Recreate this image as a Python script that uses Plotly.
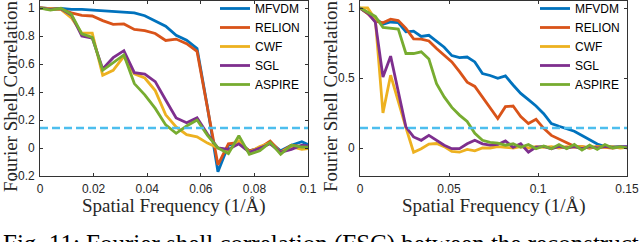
import plotly.graph_objects as go

# ---------------- data ----------------
methods = ["MFVDM", "RELION", "CWF", "SGL", "ASPIRE"]
colors = ["#0072BD", "#D95319", "#EDB120", "#7E2F8E", "#77AC30"]
fsc_threshold = 0.143

freq_left = [0, 0.0039, 0.0078, 0.0117, 0.0156, 0.0195, 0.0234, 0.0273, 0.0313,
             0.0352, 0.0391, 0.043, 0.0469, 0.0508, 0.0547, 0.0586, 0.0625, 0.0664,
             0.0703, 0.0742, 0.0781, 0.082, 0.0859, 0.0898, 0.0938, 0.0977, 0.1016]

left_mfvdm = [1.0, 0.995, 0.998, 0.99, 0.99, 0.985, 0.98, 0.975, 0.97, 0.965, 0.945,
              0.91, 0.87, 0.805, 0.77, 0.71, 0.29, -0.17, 0.02, 0.04, -0.02, 0.0,
              0.04, -0.02, 0.02, 0.045, 0.01]
left_relion = [1.0, 0.995, 0.99, 0.965, 0.948, 0.943, 0.91, 0.883, 0.886, 0.847, 0.838,
               0.818, 0.768, 0.778, 0.745, 0.69, 0.28, -0.12, 0.03, 0.04, -0.02, 0.0,
               0.05, -0.03, 0.02, 0.01, 0.0]
left_cwf = [1.0, 0.995, 0.99, 0.93, 0.82, 0.82, 0.52, 0.555, 0.655, 0.53, 0.50, 0.41,
            0.237, 0.15, 0.095, 0.08, 0.035, 0.0, -0.02, 0.05, -0.03, 0.01, 0.035, -0.03,
            0.01, -0.01, 0.0]
left_sgl = [1.0, 0.99, 0.995, 0.95, 0.80, 0.785, 0.565, 0.645, 0.695, 0.538, 0.528, 0.474,
            0.343, 0.215, 0.18, 0.215, 0.1, 0.0, -0.01, 0.03, -0.03, 0.0, 0.03, -0.03,
            -0.01, 0.02, 0.01]
left_aspire = [1.0, 0.985, 0.998, 0.955, 0.815, 0.79, 0.555, 0.61, 0.665, 0.46, 0.38,
               0.283, 0.165, 0.105, 0.157, 0.2, 0.09, 0.0, -0.04, 0.088, -0.045, -0.02,
               0.04, -0.045, 0.02, 0.007, 0.005]

freq_right = [0, 0.0043, 0.0086, 0.0129, 0.0172, 0.0215, 0.0258, 0.0301, 0.0344, 0.0387,
              0.043, 0.0473, 0.0516, 0.0559, 0.0602, 0.0645, 0.0688, 0.0731, 0.0774,
              0.0817, 0.086, 0.0903, 0.0946, 0.0989, 0.1032, 0.1075, 0.1118, 0.1161,
              0.1204, 0.1247, 0.129, 0.1333, 0.1376, 0.1419, 0.1462, 0.1505]

right_mfvdm = [1.0, 0.965, 0.925, 0.885, 0.90, 0.895, 0.83, 0.835, 0.797, 0.805, 0.765,
               0.72, 0.66, 0.645, 0.65, 0.615, 0.532, 0.518, 0.498, 0.515, 0.45, 0.39,
               0.345, 0.30, 0.245, 0.175, 0.155, 0.14, 0.12, 0.09, 0.06, 0.028, 0.01,
               0.01, 0.008, 0.008]
right_relion = [1.0, 0.96, 0.905, 0.895, 0.92, 0.91, 0.855, 0.78, 0.778, 0.765, 0.71,
                0.665, 0.615, 0.545, 0.47, 0.44, 0.365, 0.29, 0.21, 0.295, 0.30, 0.225,
                0.175, 0.205, 0.14, 0.09, 0.065, 0.04, 0.012, 0.01, 0.0, 0.01, 0.005,
                0.0, 0.006, 0.0]
right_cwf = [1.0, 1.0, 0.92, 0.25, 0.52, 0.33, 0.145, -0.03, -0.005, 0.028, 0.032, 0.01,
             -0.025, -0.03, -0.01, -0.02, 0.0, 0.0, 0.01, 0.005, 0.0, 0.01, 0.0, 0.01,
             0.005, 0.01, 0.0, 0.01, 0.005, 0.01, 0.0, 0.01, 0.005, 0.01, 0.0, 0.005]
right_sgl = [1.0, 0.965, 0.90, 0.507, 0.656, 0.40, 0.15, 0.079, 0.055, 0.09, 0.055, 0.02,
             -0.005, -0.005, 0.03, 0.055, 0.03, 0.02, 0.025, 0.05, 0.005, 0.03, -0.03,
             0.007, 0.012, -0.005, 0.012, 0.0, 0.01, -0.005, 0.01, 0.0, 0.012, 0.005,
             0.01, 0.01]
right_aspire = [1.0, 0.97, 0.94, 0.862, 0.855, 0.85, 0.675, 0.675, 0.687, 0.635, 0.46,
                0.365, 0.29, 0.235, 0.19, 0.105, 0.055, 0.04, 0.035, 0.02, 0.03, 0.005,
                0.025, -0.005, 0.015, -0.005, 0.025, -0.005, 0.025, -0.015, 0.02, -0.01,
                0.025, 0.0, 0.01, 0.0]

left_series = [left_mfvdm, left_relion, left_cwf, left_sgl, left_aspire]
right_series = [right_mfvdm, right_relion, right_cwf, right_sgl, right_aspire]

x_tick_left = [0, 0.02, 0.04, 0.06, 0.08, 0.1]
x_ticktext_left = ["0", "0.02", "0.04", "0.06", "0.08", "0.1"]
x_tick_right = [0, 0.05, 0.1, 0.15]
x_ticktext_right = ["0", "0.05", "0.1", "0.15"]
y_tick_left = [-0.2, 0, 0.2, 0.4, 0.6, 0.8, 1]
y_ticktext_left = ["-0.2", "0", "0.2", "0.4", "0.6", "0.8", "1"]
y_tick_right = [0, 0.5, 1]
y_ticktext_right = ["0", "0.5", "1"]

x_title = "Spatial Frequency (1/Å)"
y_title = "Fourier Shell Correlation"
caption = "Fig. 11: Fourier shell correlation (FSC) between the reconstructed volumes"

# ---------------- figure ----------------
W, H = 640, 242
MT, MB = 1, 66
PH = H - MT - MB


def py2paper(py):
    return (H - MB - py) / PH


fig = go.Figure()
LW = 2.8
for name, col, ys in zip(methods, colors, left_series):
    fig.add_trace(go.Scatter(x=freq_left, y=ys, mode="lines", name=name,
                             line=dict(color=col, width=LW),
                             xaxis="x", yaxis="y", legend="legend"))
fig.add_trace(go.Scatter(x=[0, 0.1], y=[fsc_threshold, fsc_threshold], mode="lines",
                         line=dict(color="#4DBEEE", width=2.5, dash="8px,4px"),
                         showlegend=False, xaxis="x", yaxis="y"))
for name, col, ys in zip(methods, colors, right_series):
    fig.add_trace(go.Scatter(x=freq_right, y=ys, mode="lines", name=name,
                             line=dict(color=col, width=LW),
                             xaxis="x2", yaxis="y2", legend="legend2"))
fig.add_trace(go.Scatter(x=[0, 0.15], y=[fsc_threshold, fsc_threshold], mode="lines",
                         line=dict(color="#4DBEEE", width=2.5, dash="8px,4px"),
                         showlegend=False, xaxis="x2", yaxis="y2"))

tickfont = dict(family="Liberation Sans, Arial, sans-serif", size=12, color="#262626")
axcommon = dict(showline=True, linecolor="#333333", linewidth=0.8, mirror="ticks",
                ticks="inside", ticklen=3, tickwidth=0.8, tickcolor="#333333",
                showgrid=False, zeroline=False, tickfont=tickfont, automargin=False,
                fixedrange=True)

fig.update_layout(
    width=W, height=H,
    margin=dict(l=0, r=0, t=MT, b=MB, autoexpand=False),
    paper_bgcolor="white", plot_bgcolor="white",
    template="none",
    xaxis=dict(domain=[40 / W, 308 / W], range=[0, 0.1], tickvals=x_tick_left,
               ticktext=x_ticktext_left, anchor="y", ticklabelstandoff=2, **axcommon),
    yaxis=dict(domain=[0, 1], range=[-0.2, 1.05], tickvals=y_tick_left,
               ticktext=y_ticktext_left, anchor="x", ticklabelstandoff=2, **axcommon),
    xaxis2=dict(domain=[360 / W, 627 / W], range=[0, 0.15], tickvals=x_tick_right,
                ticktext=x_ticktext_right, anchor="y2", ticklabelstandoff=2, **axcommon),
    yaxis2=dict(domain=[0, 1], range=[-0.2, 1.05], tickvals=y_tick_right,
                ticktext=y_ticktext_right, anchor="x2", ticklabelstandoff=2, **axcommon),
    legend=dict(x=215 / W, xanchor="left", y=py2paper(-6), yanchor="top",
                bgcolor="rgba(0,0,0,0)", borderwidth=0,
                font=dict(family="Liberation Sans, Arial, sans-serif", size=12, color="black")),
    legend2=dict(x=535 / W, xanchor="left", y=py2paper(-6), yanchor="top",
                 bgcolor="rgba(0,0,0,0)", borderwidth=0,
                 font=dict(family="Liberation Sans, Arial, sans-serif", size=12, color="black")),
    showlegend=True,
)

serif = dict(family="Liberation Serif, Times New Roman, serif", size=19, color="#262626")
annotations = []
for cx in (174, 493.5):
    annotations.append(dict(text=x_title, x=cx / W, y=py2paper(205.5), xref="paper", yref="paper",
                            xanchor="center", yanchor="middle", showarrow=False, font=serif))
for cx in (10, 330):
    annotations.append(dict(text=y_title, x=cx / W, y=py2paper(96), xref="paper", yref="paper",
                            xanchor="center", yanchor="middle", textangle=-90, showarrow=False,
                            font=serif))
annotations.append(dict(text=caption, x=1 / W, y=py2paper(227.5), xref="paper", yref="paper",
                        xanchor="left", yanchor="top", showarrow=False, align="left",
                        font=dict(family="Liberation Serif, Times New Roman, serif", size=25,
                                  color="black")))
fig.update_layout(annotations=annotations)

fig.write_html("out.html", config={"displayModeBar": False},
               post_script="document.body.style.margin='0px';document.body.style.overflow='hidden';")
